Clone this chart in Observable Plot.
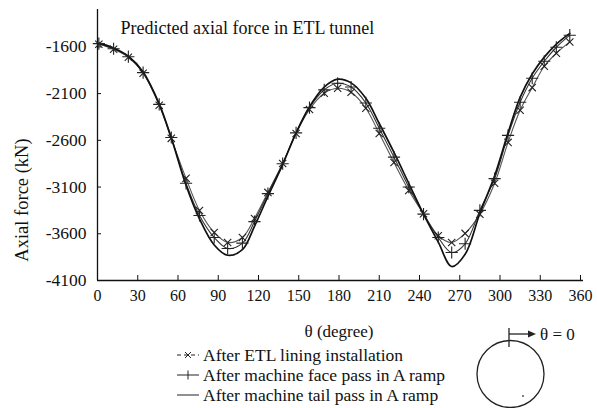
<!DOCTYPE html>
<html>
<head>
<meta charset="utf-8">
<script src="https://cdn.jsdelivr.net/npm/d3@7"></script>
<script src="https://cdn.jsdelivr.net/npm/@observablehq/plot@0.6"></script>
<style>
  html, body { margin: 0; padding: 0; background: #fff; }
  #wrap { position: relative; width: 597px; height: 408px; overflow: hidden; background: #fff;
          font-family: "Liberation Serif", "DejaVu Serif", serif; color: #111; }
  #chart { position: absolute; left: 0; top: 0; }
  #ylabel { position: absolute; left: 22px; top: 200px; transform: translate(-50%, -50%) rotate(-90deg);
            white-space: nowrap; font-size: 18.5px; }
  #legend { position: absolute; left: 176px; top: 345px; font-size: 17.5px; line-height: 20px; }
  .row { display: flex; align-items: center; height: 20px; white-space: nowrap; }
  .row svg { margin-right: 3px; }
  #diagram { position: absolute; left: 470px; top: 322px; }
</style>
</head>
<body>
<div id="wrap">
  <div id="chart"></div>
  <div id="ylabel">Axial force (kN)</div>
  <div id="legend"></div>
  <div id="diagram"></div>
</div>
<script>
// ---- data ----
const angles = [1, 12, 23, 34, 46, 55, 66, 76, 87, 97, 108, 117, 127, 138, 148, 158, 169, 179, 189, 200,
                210, 221, 232, 243, 254, 264, 274, 285, 296, 306, 315, 324, 333, 342, 352];
const etlInstall = [-1572, -1625, -1711, -1882, -2225, -2579, -3007, -3350, -3586, -3693, -3640, -3436, -3157, -2848,
                    -2527, -2270, -2097, -2043, -2086, -2257, -2527, -2838, -3136, -3386, -3621, -3693, -3596, -3390,
                    -3060, -2622, -2279, -2036, -1807, -1668, -1547];
const facePass = [-1565, -1620, -1705, -1875, -2215, -2570, -3060, -3404, -3640, -3757, -3700, -3470, -3170, -2850,
                  -2520, -2250, -2060, -1990, -2030, -2200, -2470, -2780, -3100, -3390, -3640, -3800, -3707, -3350,
                  -3010, -2547, -2193, -1936, -1754, -1604, -1475];
const tailPass = [-1560, -1612, -1700, -1868, -2210, -2575, -3080, -3440, -3720, -3830, -3770, -3520, -3200, -2860,
                  -2520, -2240, -2030, -1946, -1985, -2150, -2420, -2730, -3060, -3390, -3690, -3950, -3820, -3380,
                  -2980, -2520, -2140, -1890, -1710, -1570, -1455];
const xTicks = [0, 30, 60, 90, 120, 150, 180, 210, 240, 270, 300, 330, 360];
const yTicks = [-1600, -2100, -2600, -3100, -3600, -4100];
const seriesNames = ["After ETL lining installation", "After machine face pass in A ramp", "After machine tail pass in A ramp"];
const chartTitle = "Predicted axial force in ETL tunnel";
const xLabel = "θ (degree)";

const mk = (vals, s) => angles.map((a, i) => ({angle: a, force: vals[i], series: s}));
const dEtl = mk(etlInstall, seriesNames[0]);
const dFace = mk(facePass, seriesNames[1]);
const dTail = mk(tailPass, seriesNames[2]);

const chart = Plot.plot({
  width: 597,
  height: 345,
  marginLeft: 97,
  marginRight: 17,
  marginTop: 9,
  marginBottom: 65,
  style: {fontFamily: "'Liberation Serif', 'DejaVu Serif', serif", fontSize: "16px", color: "#111", background: "transparent"},
  x: {domain: [0, 360]},
  y: {domain: [-4100, -1200]},
  marks: [
    Plot.axisX({ticks: xTicks, tickSize: -5, tickPadding: 14, tickFormat: d => String(d), label: null, fontSize: 16}),
    Plot.axisY({ticks: yTicks, tickSize: -4, tickPadding: 15, tickFormat: d => String(d), label: null, fontSize: 17.5}),
    Plot.ruleX([0], {stroke: "#111", strokeWidth: 1.3}),
    Plot.ruleY([-4100], {stroke: "#111", strokeWidth: 1.3, insetRight: -3}),
    Plot.line(dEtl, {x: "angle", y: "force", stroke: "#555", strokeWidth: 1.1, curve: "catmull-rom"}),
    Plot.line(dFace, {x: "angle", y: "force", stroke: "#333", strokeWidth: 1.1, curve: "catmull-rom"}),
    Plot.line(dTail, {x: "angle", y: "force", stroke: "#111", strokeWidth: 1.7, curve: "catmull-rom"}),
    Plot.dot(dEtl, {x: "angle", y: "force", symbol: "times", r: 3.4, stroke: "#222", strokeWidth: 1.1}),
    Plot.dot(dFace, {x: "angle", y: "force", symbol: "plus", r: 4, stroke: "#222", strokeWidth: 1.1}),
    Plot.text([chartTitle], {frameAnchor: "top-left", dx: 23, dy: 19, textAnchor: "start", lineAnchor: "middle", fontSize: 18, fill: "#111"}),
    Plot.text([xLabel], {frameAnchor: "bottom", dy: 51, lineAnchor: "middle", fontSize: 17, fill: "#111"})
  ]
});
document.getElementById("chart").appendChild(chart);

// legend
const legend = d3.select("#legend");
const swatch = [
  {sym: "x"}, {sym: "+"}, {sym: "-"}
];
seriesNames.forEach((name, i) => {
  const row = legend.append("div").attr("class", "row");
  const s = row.append("svg").attr("width", 24).attr("height", 12);
  s.append("line").attr("x1", 1).attr("x2", 23).attr("y1", 6).attr("y2", 6)
    .attr("stroke", "#222").attr("stroke-width", 1)
    .attr("stroke-dasharray", i === 0 ? "4,3" : null);
  if (swatch[i].sym === "x") {
    s.append("path").attr("d", "M9,3L15,9M15,3L9,9").attr("stroke", "#222").attr("stroke-width", 1);
  } else if (swatch[i].sym === "+") {
    s.append("path").attr("d", "M12,1.5V10.5").attr("stroke", "#222").attr("stroke-width", 1);
  }
  row.append("span").text(name);
});

// orientation diagram
const dg = d3.select("#diagram").append("svg").attr("width", 127).attr("height", 86)
  .style("font-family", "'Liberation Serif', serif");
dg.append("circle").attr("cx", 40.5).attr("cy", 52).attr("r", 33.5).attr("fill", "none").attr("stroke", "#222").attr("stroke-width", 1.3);
dg.append("line").attr("x1", 39).attr("x2", 39).attr("y1", 6).attr("y2", 25).attr("stroke", "#222").attr("stroke-width", 1.3);
dg.append("line").attr("x1", 39).attr("x2", 60).attr("y1", 12).attr("y2", 12).attr("stroke", "#222").attr("stroke-width", 1.3);
dg.append("path").attr("d", "M66,12L58,8.5L58,15.5Z").attr("fill", "#222");
dg.append("text").attr("x", 70).attr("y", 12).attr("dy", "0.35em").attr("font-size", 17).attr("fill", "#111").text("θ = 0");
dg.append("circle").attr("cx", 53).attr("cy", 74).attr("r", 0.9).attr("fill", "#444");
</script>
</body>
</html>
